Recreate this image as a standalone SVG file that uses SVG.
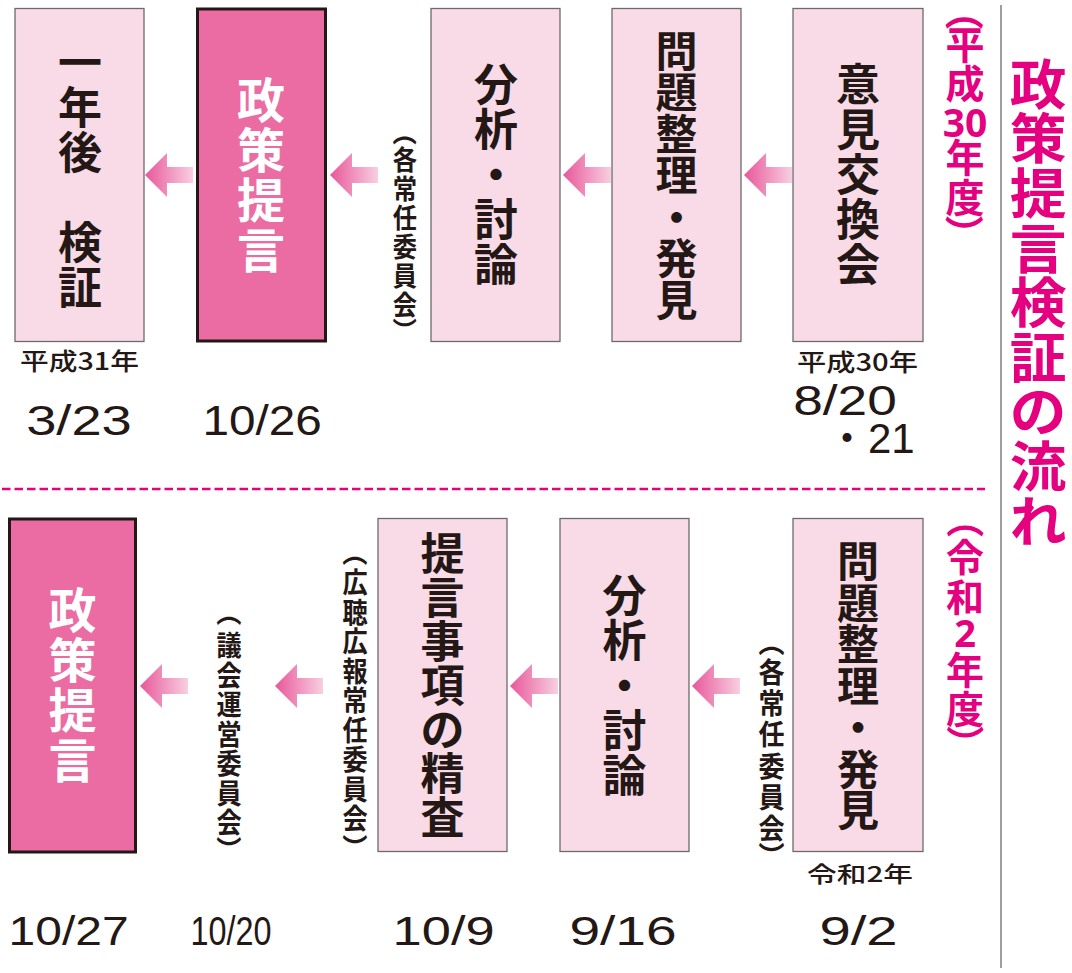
<svg xmlns="http://www.w3.org/2000/svg" xmlns:xlink="http://www.w3.org/1999/xlink" width="1072" height="973" viewBox="0 0 1072 973">
<style>
.bl{fill:#f9dbe7;stroke:#6e6a6b;stroke-width:1.3}
.bp{fill:#ea6ca3;stroke:#231815;stroke-width:3}
.big{font-family:'Noto Sans CJK JP','Noto Sans CJK SC',sans-serif;font-size:44px;font-weight:700;fill:#231815;text-anchor:middle}
.bw{font-family:'Noto Sans CJK JP','Noto Sans CJK SC',sans-serif;font-size:48px;font-weight:700;fill:#ffffff;text-anchor:middle}
.md{font-size:42px}
.lb{font-family:'Noto Sans CJK JP','Noto Sans CJK SC',sans-serif;font-weight:700;fill:#231815;text-anchor:middle}
.mg{font-family:'Noto Sans CJK JP','Noto Sans CJK SC',sans-serif;font-weight:700;fill:#e4007f;text-anchor:middle}
.dg{font-family:'Noto Sans','Liberation Sans',sans-serif;font-weight:700;fill:#e4007f;text-anchor:middle}
.yr{font-family:'Noto Sans CJK JP','Noto Sans CJK SC',sans-serif;font-weight:500;fill:#231815;font-size:24px}
.dt{font-family:'Liberation Sans','Noto Sans CJK JP',sans-serif;fill:#231815;font-size:42px}
.db{font-size:40px}
</style>
<defs>
<linearGradient id="ag" x1="0" y1="0" x2="1" y2="0">
<stop offset="0" stop-color="#e8579a"/>
<stop offset="1" stop-color="#f8cfe1"/>
</linearGradient>
<polygon id="arr" points="0,0 22,-22 22,-8 48,-8 48,8 22,8 22,22" fill="url(#ag)"/>
</defs>
<rect width="1072" height="973" fill="#ffffff"/>

<!-- separators -->
<line x1="1001" y1="5" x2="1001" y2="968" stroke="#a09e9e" stroke-width="2"/>
<line x1="2" y1="489" x2="985" y2="489" stroke="#e4007f" stroke-width="2.5" stroke-dasharray="8.5 4"/>

<g id="connectors">
<use xlink:href="#arr" x="145" y="175"/>
<use xlink:href="#arr" x="330" y="175"/>
<use xlink:href="#arr" x="563" y="175"/>
<use xlink:href="#arr" x="744" y="175"/>
<use xlink:href="#arr" x="140" y="686"/>
<use xlink:href="#arr" x="275" y="686"/>
<use xlink:href="#arr" x="510" y="686"/>
<use xlink:href="#arr" x="692" y="686"/>
</g>

<!-- top row -->
<g id="n-kensho">
<rect class="bl" x="15" y="8.5" width="129" height="333"/>
<text class="big" x="80 80 80 80 80 80" y="78.7 123.7 168.7 213.7 258.7 303.7">一年後　検証</text>
<text class="yr" x="20" y="370" textLength="119" lengthAdjust="spacingAndGlyphs">平成31年</text>
<text class="dt" x="26.2" y="435" textLength="105.6" lengthAdjust="spacingAndGlyphs">3/23</text>
</g>

<g id="n-teigen1">
<rect class="bp" x="197.5" y="9" width="128" height="332"/>
<text class="bw" x="261 261 261 261" y="117.8 167.8 217.8 267.8">政策提言</text>
<text class="dt" x="202.4" y="435" textLength="119.4" lengthAdjust="spacingAndGlyphs">10/26</text>
</g>

<g id="lbl-kakujonin1" transform="translate(405 0) scale(0.9 1)">
<text class="lb" style="font-size:27px" x="0" y="142.56" transform="rotate(90 0 132.3)">（</text>
<text class="lb" style="font-size:27px" x="0 0 0 0 0 0" y="170.26 199.26 228.26 257.26 286.26 315.26">各常任委員会</text>
<text class="lb" style="font-size:27px" x="0" y="340.96" transform="rotate(90 0 330.7)">）</text>
</g>

<g id="n-bunseki1">
<rect class="bl" x="431" y="8.5" width="129" height="333"/>
<text class="big" x="496 496 496 496 496" y="101.2 146.2 191.2 236.2 281.2">分析・討論</text>
</g>

<g id="n-mondai1">
<rect class="bl" x="612" y="8.5" width="129" height="333"/>
<text class="big md" x="676.5 676.5 676.5 676.5 676.5 676.5 676.5" y="66.7 108.2 149.7 191.2 232.7 274.2 315.7">問題整理・発見</text>
</g>

<g id="n-iken">
<rect class="bl" x="793" y="8.5" width="130" height="333"/>
<text class="big" x="858 858 858 858 858" y="101.2 146.2 191.2 236.2 281.2">意見交換会</text>
<text class="yr" x="797" y="371" textLength="121" lengthAdjust="spacingAndGlyphs">平成30年</text>
<text class="dt" x="793.2" y="415" textLength="103.6" lengthAdjust="spacingAndGlyphs">8/20</text>
<text class="dt" x="826" y="453">・21</text>
</g>

<!-- bottom row -->
<g id="n-teigen2">
<rect class="bp" x="9.5" y="519" width="126" height="333"/>
<text class="bw" x="72.5 72.5 72.5 72.5" y="627.7 677.7 727.7 777.7">政策提言</text>
<text class="dt db" x="8.6" y="945" textLength="120" lengthAdjust="spacingAndGlyphs">10/27</text>
</g>

<g id="lbl-gikai" transform="translate(229 0) scale(0.9 1)">
<text class="lb" style="font-size:28px" x="0" y="622.84" transform="rotate(90 0 612.2)">（</text>
<text class="lb" style="font-size:28px" x="0 0 0 0 0 0 0" y="656.34 685.84 715.34 744.84 774.34 803.84 833.34">議会運営委員会</text>
<text class="lb" style="font-size:28px" x="0" y="860.44" transform="rotate(90 0 849.8)">）</text>
</g>
<text class="dt db" x="190.6" y="945" textLength="81" lengthAdjust="spacingAndGlyphs">10/20</text>

<g id="lbl-kocho" transform="translate(355 0) scale(0.9 1)">
<text class="lb" style="font-size:28px" x="0" y="562.84" transform="rotate(90 0 552.2)">（</text>
<text class="lb" style="font-size:28px" x="0 0 0 0 0 0 0 0 0" y="593.24 622.74 652.24 681.74 711.24 740.74 770.24 799.74 829.24">広聴広報常任委員会</text>
<text class="lb" style="font-size:28px" x="0" y="858.44" transform="rotate(90 0 847.8)">）</text>
</g>

<g id="n-seisa">
<rect class="bl" x="378" y="518.5" width="129" height="333"/>
<text class="big" x="442.5 442.5 442.5 442.5 442.5 442.5 442.5" y="569.7 613.7 657.7 701.7 745.7 789.7 833.7">提言事項の精査</text>
<text class="dt db" x="392.6" y="945" textLength="102" lengthAdjust="spacingAndGlyphs">10/9</text>
</g>

<g id="n-bunseki2">
<rect class="bl" x="560" y="518.5" width="129" height="333"/>
<text class="big" x="624.5 624.5 624.5 624.5 624.5" y="611.7 656.7 701.7 746.7 791.7">分析・討論</text>
<text class="dt db" x="569.4" y="945" textLength="107.2" lengthAdjust="spacingAndGlyphs">9/16</text>
</g>

<g id="lbl-kakujonin2" transform="translate(771.5 0) scale(0.9 1)">
<text class="lb" style="font-size:29px" x="0" y="653.12" transform="rotate(90 0 642.1)">（</text>
<text class="lb" style="font-size:29px" x="0 0 0 0 0 0" y="682.92 714.12 745.32 776.52 807.72 838.92">各常任委員会</text>
<text class="lb" style="font-size:29px" x="0" y="866.92" transform="rotate(90 0 855.9)">）</text>
</g>

<g id="n-mondai2">
<rect class="bl" x="793" y="518.5" width="130" height="333"/>
<text class="big md" x="858 858 858 858 858 858 858" y="577.2 618.7 660.2 701.7 743.2 784.7 826.2">問題整理・発見</text>
<text class="yr" style="font-size:22px" x="807" y="881.5" textLength="106" lengthAdjust="spacingAndGlyphs">令和2年</text>
<text class="dt db" x="819.4" y="945" textLength="78.2" lengthAdjust="spacingAndGlyphs">9/2</text>
</g>

<!-- right column headings -->
<g id="h-h30">
<text class="mg" style="font-size:39px" x="965" y="25.92" transform="rotate(90 965 11.1)">（</text>
<text class="mg" style="font-size:39px" x="965 965" y="59.32 97.82">平成</text>
<text class="dg" style="font-size:39px" x="965" y="137">30</text>
<text class="mg" style="font-size:39px" x="965 965" y="172.32 212.32">年度</text>
<text class="mg" style="font-size:39px" x="965" y="248.72" transform="rotate(90 965 233.9)">）</text>
</g>

<g id="h-r2">
<text class="mg" style="font-size:38px" x="965" y="533.64" transform="rotate(90 965 519.2)">（</text>
<text class="mg" style="font-size:38px" x="965 965" y="571.44 611.44">令和</text>
<text class="dg" style="font-size:38px" x="965" y="647">2</text>
<text class="mg" style="font-size:38px" x="965 965" y="684.44 723.44">年度</text>
<text class="mg" style="font-size:38px" x="965" y="758.24" transform="rotate(90 965 743.8)">）</text>
</g>

<g id="title" transform="translate(1038 0) scale(1.05 1)">
<text class="mg" style="font-size:54px" x="0 0 0 0 0 0 0 0 0" y="104.8 159.4 214 268.6 323.2 377.8 432.4 487 541.6">政策提言検証の流れ</text>
</g>
</svg>
